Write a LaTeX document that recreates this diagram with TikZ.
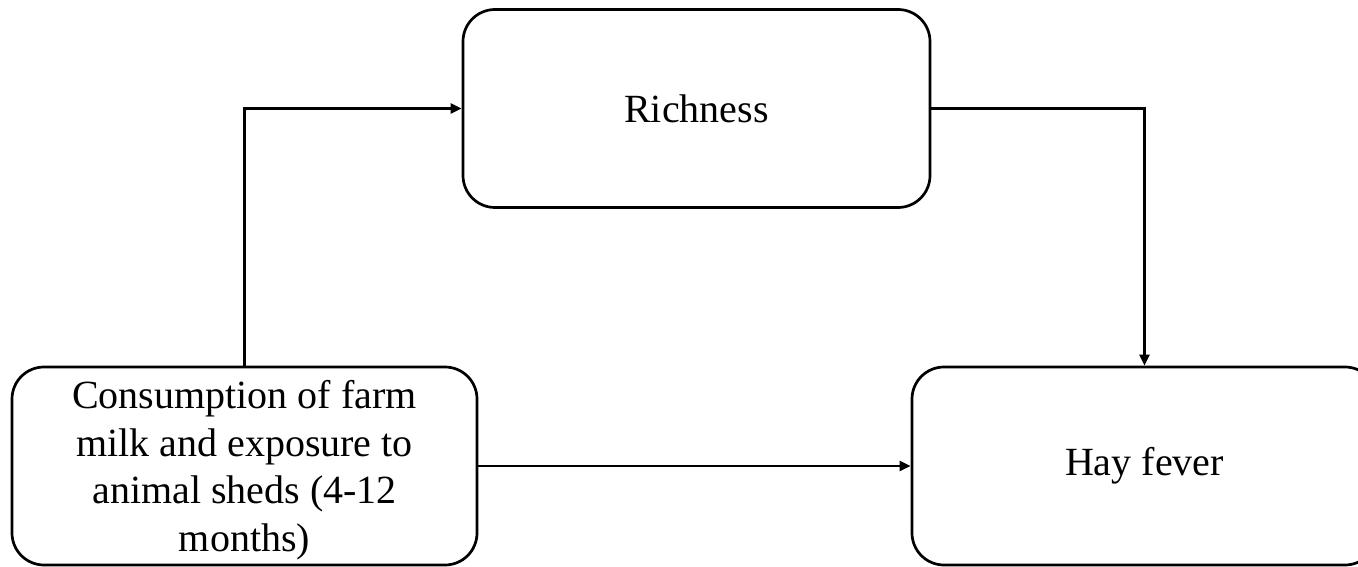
\documentclass[tikz,border=0pt]{standalone}
\usepackage{fontspec}
\setmainfont{Liberation Serif}
\usetikzlibrary{arrows.meta}
\begin{document}
\begin{tikzpicture}[x=1pt,y=1pt,
  txt/.style={align=center, inner sep=0pt, font=\fontsize{40}{47.5}\selectfont},
  box/.style={txt, draw=black, line width=2.7pt, rounded corners=32pt, minimum width=465pt, minimum height=198pt},
  conn/.style={line width=2.5pt, -{Triangle[length=11pt,width=10pt]}}]
\useasboundingbox (0,0) rectangle (1358,566);
\fill[white] (0,0) rectangle (1358,566);
\node[box] (L) at (244.5,100) {};
\node[txt] (Ltext) at ([yshift=-4pt]L.center) {Consumption of farm\\milk and exposure to\\animal sheds (4-12\\months)};
\node[box, minimum width=467pt] (R) at (696.5,457.5) {Richness};
\node[box] (H) at (1144.5,100) {Hay fever};
\draw[conn] (L.north) |- (R.west);
\draw[conn] (R.east) -| (H.north);
\draw[conn] (L.east) -- (H.west);
\end{tikzpicture}
\end{document}
